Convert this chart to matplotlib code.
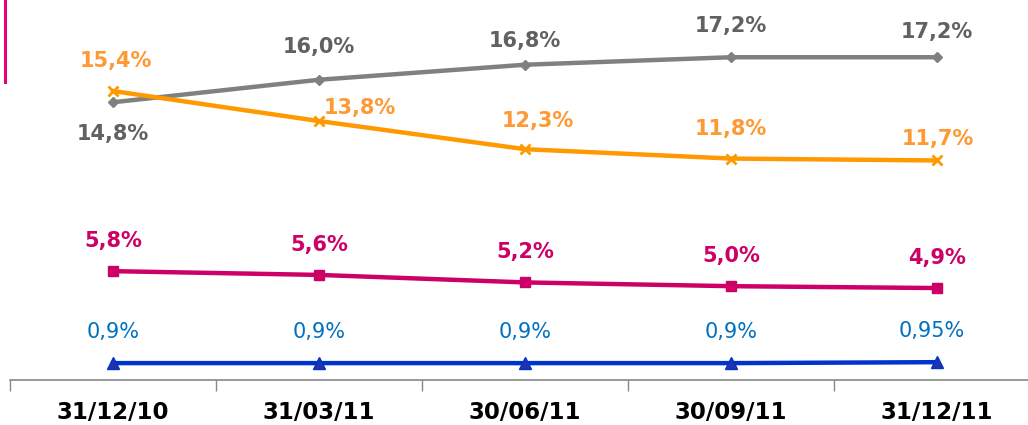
import matplotlib.pyplot as plt
from matplotlib.lines import Line2D

dates = ['31/12/10', '31/03/11', '30/06/11', '30/09/11', '31/12/11']
gray_vals = [14.8, 16.0, 16.8, 17.2, 17.2]
orange_vals = [15.4, 13.8, 12.3, 11.8, 11.7]
magenta_vals = [5.8, 5.6, 5.2, 5.0, 4.9]
blue_vals = [0.9, 0.9, 0.9, 0.9, 0.95]

gray_lbl = ['14,8%', '16,0%', '16,8%', '17,2%', '17,2%']
orange_lbl = ['15,4%', '13,8%', '12,3%', '11,8%', '11,7%']
magenta_lbl = ['5,8%', '5,6%', '5,2%', '5,0%', '4,9%']
blue_lbl = ['0,9%', '0,9%', '0,9%', '0,9%', '0,95%']

fig = plt.figure(figsize=(10.28, 4.25), dpi=100)
ax = fig.add_axes([10/1028, 45/425, 1030/1028, 380/425])
x = range(len(dates))

ax.plot(x, gray_vals, color='#808080', lw=3.2, marker='D', ms=5, zorder=3)
ax.plot(x, orange_vals, color='#FF9900', lw=3.2, marker='x', ms=7, mew=2, zorder=3)
ax.plot(x, magenta_vals, color='#CC0066', lw=3.2, marker='s', ms=7, zorder=3)
ax.plot(x, blue_vals, color='#0033CC', lw=3.2, marker='^', ms=8, mfc='#2233AA', zorder=3)

# label offsets in pixels (dx, dy)
gray_off = [(0, -32), (0, 33), (0, 24), (0, 31), (0, 25)]
orange_off = [(3, 30), (41, 13), (13, 28), (0, 30), (1, 21)]
for i in x:
    ax.annotate(gray_lbl[i], (i, gray_vals[i]), xytext=gray_off[i], textcoords='offset pixels',
                ha='center', va='center', color='#616161', fontsize=15, fontweight='bold')
    ax.annotate(orange_lbl[i], (i, orange_vals[i]), xytext=orange_off[i], textcoords='offset pixels',
                ha='center', va='center', color='#FF9933', fontsize=15, fontweight='bold')
    ax.annotate(magenta_lbl[i], (i, magenta_vals[i]), xytext=(0, 30), textcoords='offset pixels',
                ha='center', va='center', color='#CC0066', fontsize=15, fontweight='bold')
    ax.annotate(blue_lbl[i], (i, blue_vals[i]), xytext=(-5 if i == 4 else 0, 31), textcoords='offset pixels',
                ha='center', va='center', color='#0070C0', fontsize=15)

ax.set_xlim(-0.5, 4.5)
ax.set_ylim(0, 20.25)
ax.set_yticks([])
ax.set_xticks(list(x))
ax.set_xticklabels(dates, fontsize=16.5, fontweight='bold')
ax.set_xticks([i - 0.5 for i in range(6)], minor=True)
ax.tick_params(axis='x', which='major', length=0, pad=15)
ax.tick_params(axis='x', which='minor', length=8, color='#888888', width=1)
for s in ['left', 'right', 'top']:
    ax.spines[s].set_visible(False)
ax.spines['bottom'].set_color('#888888')
ax.spines['bottom'].set_linewidth(1.2)

fig.add_artist(Line2D([5/1028, 5/1028], [1, 1 - 82/425], color='#E6007E', lw=2.2))

fig.savefig('out.png', dpi=100)
